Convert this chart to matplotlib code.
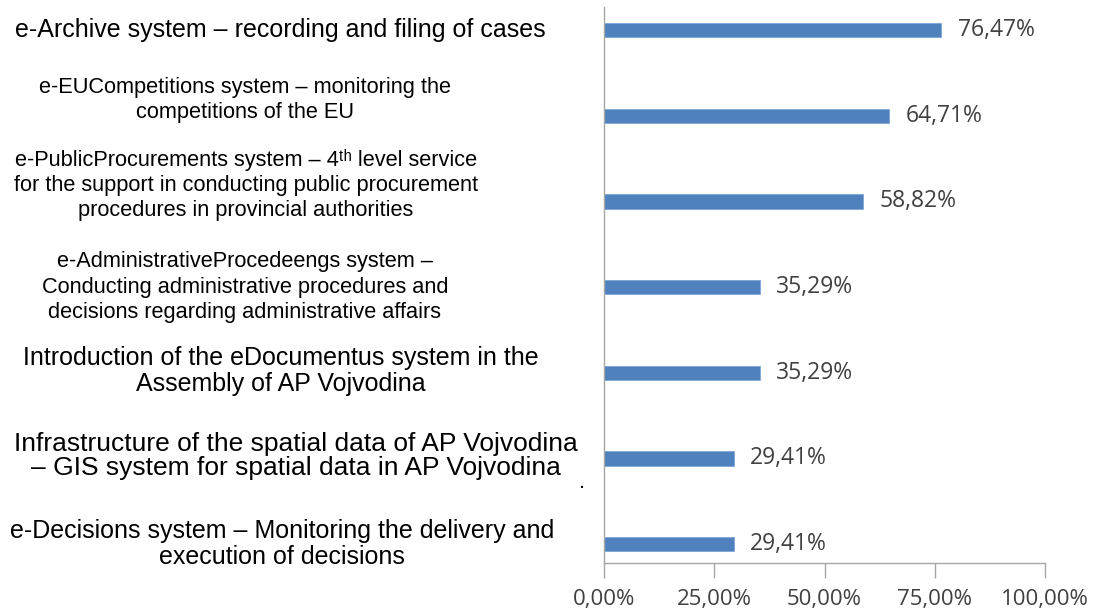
import matplotlib.pyplot as plt
import matplotlib.transforms as mtransforms
import numpy as np

categories = [
    "e-Archive system \u2013 recording and filing of cases",
    "e-EUCompetitions system \u2013 monitoring the\ncompetitions of the EU",
    "e-PublicProcurements system \u2013 4\u1d57\u02b0 level service\n"
    "for the support in conducting public procurement\n"
    "procedures in provincial authorities",
    "e-AdministrativeProcedeengs system \u2013\n"
    "Conducting administrative procedures and\n"
    "decisions regarding administrative affairs",
    "Introduction of the eDocumentus system in the\nAssembly of AP Vojvodina",
    "Infrastructure of the spatial data of AP Vojvodina\n"
    "\u2013 GIS system for spatial data in AP Vojvodina",
    "e-Decisions system \u2013 Monitoring the delivery and\nexecution of decisions",
]
values = [76.47, 64.71, 58.82, 35.29, 35.29, 29.41, 29.41]
ticks = [0, 25, 50, 75, 100]

# look of each category text block: centre x (px), row shift, font size
label_x = [280, 245, 246, 245, 281, 296, 282]
label_dy = [0, -0.18, -0.19, 0, -0.02, -0.03, 0]
label_fs = [18, 15.7, 15.7, 15.7, 18, 19, 18]

fig = plt.figure(figsize=(11.16, 6.15), dpi=100)
ax = fig.add_axes([604 / 1116, 1 - 563 / 615, 441 / 1116, 556 / 615])

y = np.arange(len(values))
ax.barh(y, values, height=0.17, color='#4f81bd', edgecolor='#7fa6d6', linewidth=0.6)
for yi, v in zip(y, values):
    ax.text(v + 3.7, yi, f"{v:.2f}%".replace('.', ','), va='center', ha='left',
            fontsize=16.5, family='Open Sans', color='#404040')

ax.set_xlim(0, 100)
ax.set_ylim(6.22, -0.27)
ax.set_xticks(ticks)
ax.set_xticklabels([f"{t:.2f}%".replace('.', ',') for t in ticks],
                   fontsize=16, family='Open Sans', color='#404040')
ax.tick_params(axis='x', direction='out', length=11, width=1, color='#a6a6a6', pad=8)
ax.set_yticks([])

for side in ['top', 'right']:
    ax.spines[side].set_visible(False)
for side in ['left', 'bottom']:
    ax.spines[side].set_color('#a6a6a6')
    ax.spines[side].set_linewidth(1)

trans = mtransforms.blended_transform_factory(fig.transFigure, ax.transData)
for cat, lx, dy, fs, yi in zip(categories, label_x, label_dy, label_fs, y):
    fig.text(lx / 1116, yi + dy, cat, transform=trans, ha='center', va='center',
             multialignment='center', fontsize=fs,
             family=['Liberation Sans', 'DejaVu Sans'],
             color='black', linespacing=27.5 / (fs * 100 / 72))

# stray dot in the original
fig.text(582 / 1116, 1 - 483 / 615, '.', fontsize=16, family='Liberation Sans',
         ha='center', va='center')

fig.savefig('out.png', dpi=100)
